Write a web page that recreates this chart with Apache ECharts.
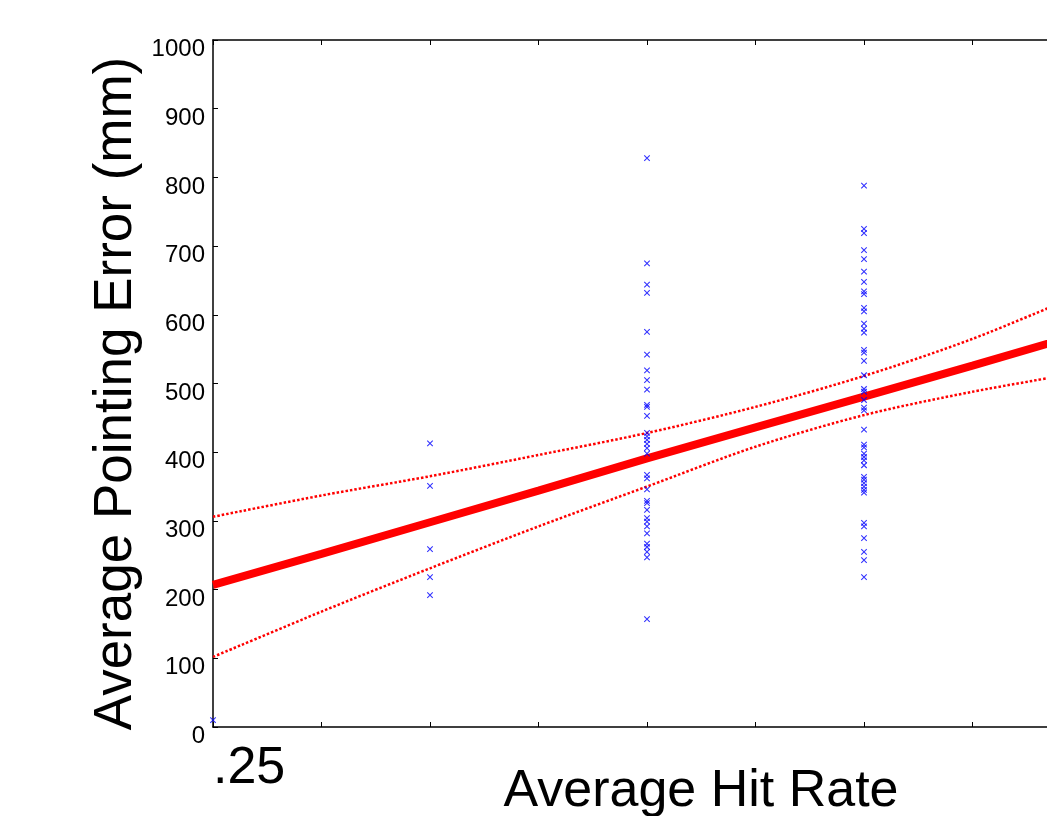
<!DOCTYPE html>
<html>
<head>
<meta charset="utf-8">
<script src="https://cdn.jsdelivr.net/npm/echarts@6/dist/echarts.min.js"></script>
<style>
html,body{margin:0;padding:0;background:#fff;}
#chart{width:1047px;height:816px;}
</style>
</head>
<body>
<div id="chart"></div>
<script>
// Hit-rate levels and observed average pointing errors (mm)
const hitRate25 = [10];
const hitRate50 = [413, 351, 259, 218, 192];
const hitRate75 = [828, 675, 644, 632, 575, 542, 519, 505, 491, 469, 466, 453, 428, 423, 418, 412, 406, 398, 367, 362, 346, 329, 326, 316, 304, 299, 292, 282, 267, 262, 255, 247, 157];
const hitRate100 = [788, 725, 719, 694, 681, 663, 648, 634, 630, 610, 605, 587, 580, 574, 549, 545, 533, 512, 492, 488, 476, 465, 461, 433, 411, 407, 398, 393, 388, 381, 364, 360, 355, 350, 345, 341, 297, 292, 275, 255, 243, 218];

// Regression fit and confidence bounds
const fitX = [0.25, 0.375, 0.5, 0.625, 0.75, 0.875, 1.0, 1.125, 1.25];
const fitY = [207, 252, 298, 344, 391, 436, 481, 526, 572];
const upperY = [306, 337, 365, 396, 428, 466, 511, 565, 630];
const lowerY = [102, 168, 231, 292, 350, 408, 454, 488, 516];

const yTicks = [0, 100, 200, 300, 400, 500, 600, 700, 800, 900, 1000];

function pairs(x, ys) { return ys.map(v => [x, v]); }
function zipXY(xs, ys) { return xs.map((x, i) => [x, ys[i]]); }

const scatterData = [].concat(
  pairs(0.25, hitRate25), pairs(0.5, hitRate50),
  pairs(0.75, hitRate75), pairs(1.0, hitRate100)
);

const chart = echarts.init(document.getElementById('chart'), null, {renderer: 'canvas'});
const font = 'Liberation Sans, Arial, sans-serif';
const dotted = {color: '#ff0000', width: 2.5, type: [2.5, 2]};

chart.setOption({
  animation: false,
  backgroundColor: '#ffffff',
  grid: {left: 213, top: 40, width: 868, height: 687, outerBoundsMode: 'none', containLabel: false},
  xAxis: [{
    type: 'value', min: 0.25, max: 1.25, interval: 0.125,
    position: 'bottom',
    name: 'Average Hit Rate', nameLocation: 'middle', nameGap: 39, nameMoveOverlap: false,
    nameTextStyle: {fontFamily: font, fontSize: 52, color: '#000', padding: [0, 0, 0, 108]},
    axisLine: {show: true, lineStyle: {color: '#000', width: 1.5}},
    axisTick: {show: true, inside: true, length: 5, lineStyle: {color: '#000'}},
    axisLabel: {
      show: true, margin: 16, fontFamily: font, fontSize: 52, color: '#000', align: 'left',
      formatter: v => (Math.abs(v - 0.25) < 1e-9 ? '.25' : '')
    },
    splitLine: {show: false}
  }, {
    type: 'value', min: 0.25, max: 1.25, interval: 0.125,
    position: 'top',
    axisLine: {show: true, lineStyle: {color: '#000', width: 1.5}},
    axisTick: {show: true, inside: true, length: 5, lineStyle: {color: '#000'}},
    axisLabel: {show: false},
    splitLine: {show: false}
  }],
  yAxis: {
    type: 'value', min: 0, max: 1000, interval: 100,
    name: 'Average Pointing Error (mm)', nameLocation: 'middle', nameGap: 70, nameMoveOverlap: false,
    nameTextStyle: {fontFamily: font, fontSize: 53, color: '#000', padding: [0, 20, 0, 0]},
    axisLine: {show: true, lineStyle: {color: '#000', width: 1.5}},
    axisTick: {show: true, inside: true, length: 5, lineStyle: {color: '#000'}},
    axisLabel: {
      margin: 8, fontFamily: font, fontSize: 24, color: '#000',
      verticalAlign: 'top', lineHeight: 19,
      formatter: v => (yTicks.indexOf(v) >= 0 ? String(v) : '')
    },
    splitLine: {show: false}
  },
  series: [
    {
      type: 'line', data: zipXY(fitX, upperY), smooth: 0.3, showSymbol: false,
      lineStyle: dotted, z: 3
    },
    {
      type: 'line', data: zipXY(fitX, lowerY), smooth: 0.3, showSymbol: false,
      lineStyle: dotted, z: 3
    },
    {
      type: 'line', data: zipXY(fitX, fitY), smooth: false, showSymbol: false,
      lineStyle: {color: '#ff0000', width: 8}, z: 4
    },
    {
      type: 'scatter', data: scatterData,
      symbol: 'path://M0,0L10,10M10,0L0,10', symbolSize: 5.5,
      itemStyle: {color: 'none', borderColor: '#0000ff', borderWidth: 1.1},
      z: 5
    }
  ]
});
</script>
</body>
</html>
